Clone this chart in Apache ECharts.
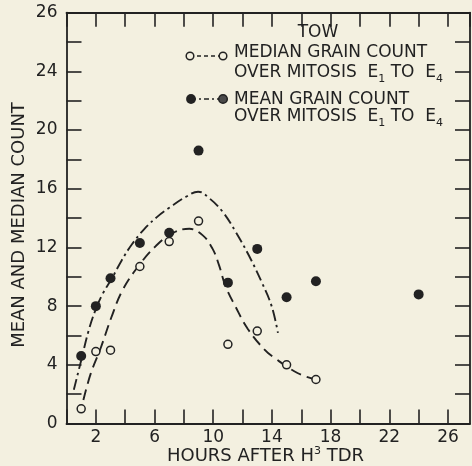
<!DOCTYPE html>
<html>
<head>
<meta charset="utf-8">
<script src="https://cdn.jsdelivr.net/npm/echarts@6/dist/echarts.min.js"></script>
<style>
  html, body { margin: 0; padding: 0; background: #f3f0e0; }
  #chart { width: 472px; height: 466px; }
</style>
</head>
<body>
<div id="chart"></div>
<script>
// Sampling times (hours after H3 TdR)
const hours = [1, 2, 3, 5, 7, 9, 11, 13, 15, 17, 24];
// Mean grain count over mitosis E1 to E4
const meanCount = [4.6, 8.0, 9.9, 12.3, 13.0, 18.6, 9.6, 11.9, 8.6, 9.7, 8.8];
// Median grain count over mitosis E1 to E4 (no median at 24 h)
const medianCount = [1.0, 4.9, 5.0, 10.7, 12.4, 13.8, 5.4, 6.3, 4.0, 3.0, null];

// Hand-fitted trend through the medians (dashed)
const medianCurveHours = [1.15, 1.65, 2.35, 3.06, 3.8, 4.88, 6.08, 7.23, 8.37, 9.27, 9.95, 10.4, 10.82, 11.48, 12.37, 13.48, 14.16, 15.74, 16.8];
const medianCurveCount = [1.6, 3.4, 5.2, 7.24, 9.05, 10.7, 12.09, 12.98, 13.27, 12.84, 11.92, 10.78, 9.41, 8.04, 6.43, 5.05, 4.48, 3.44, 3.05];

// Hand-fitted trend through the means (dash-dot)
const meanCurveHours = [0.5, 1.0, 1.5, 2.0, 2.5, 3.1, 3.75, 4.45, 5.3, 6.2, 7.0, 8.17, 8.97, 9.76, 10.66, 11.55, 12.44, 13.32, 13.98, 14.41];
const meanCurveCount = [2.3, 4.3, 6.3, 7.8, 8.9, 9.9, 11.1, 12.2, 13.25, 14.1, 14.7, 15.47, 15.8, 15.33, 14.41, 13.03, 11.43, 9.6, 8.0, 6.18];

// Axis tick labels
const xLabelValues = [2, 6, 10, 14, 18, 22, 26];
const yLabelValues = [0, 4, 8, 12, 16, 20, 24, 28];
const yLabelTexts  = ['0', '4', '8', '12', '16', '20', '24', '26'];

const INK = '#222222';
const PAPER = '#f3f0e0';
const FONT = 'DejaVu Sans';

const zip = (xs, ys) => xs.map((x, i) => [x, ys[i]]).filter(p => p[1] !== null);

const tickStyle = { color: INK, width: 1.6 };
const lineStyleAxis = { color: INK, width: 1.8 };

function xAxisDef(position, showLabels) {
  return {
    type: 'value', position, min: 0, max: 27.5, interval: 2,
    axisLine: { show: true, onZero: false, lineStyle: lineStyleAxis },
    axisTick: { show: true, inside: true, length: 14, lineStyle: tickStyle },
    splitLine: { show: false },
    axisLabel: {
      show: showLabels, margin: 6, color: INK, fontSize: 17, fontFamily: FONT,
      showMaxLabel: false,
      formatter: v => (xLabelValues.indexOf(v) >= 0 ? String(v) : '')
    }
  };
}

function yAxisDef(position, showLabels) {
  return {
    type: 'value', position, min: 0, max: 28, interval: 2,
    axisLine: { show: true, onZero: false, lineStyle: lineStyleAxis },
    axisTick: { show: true, inside: true, length: 15, lineStyle: tickStyle },
    splitLine: { show: false },
    axisLabel: {
      show: showLabels, margin: 9, color: INK, fontSize: 17, fontFamily: FONT,
      formatter: v => {
        const i = yLabelValues.indexOf(v);
        return i >= 0 ? yLabelTexts[i] : '';
      }
    }
  };
}

const chart = echarts.init(document.getElementById('chart'), null, { renderer: 'canvas' });

const textStyleBase = { fill: INK, fontFamily: FONT };
const subRich = {
  m: { fontSize: 17, lineHeight: 24, fontFamily: FONT, color: INK },
  s: { fontSize: 11, lineHeight: 12, verticalAlign: 'bottom', fontFamily: FONT, color: INK }
};

chart.setOption({
  backgroundColor: PAPER,
  animation: false,
  grid: { left: 66.5, right: 2, top: 12.7, bottom: 42.5 },
  xAxis: [xAxisDef('bottom', true), xAxisDef('top', false)],
  yAxis: [yAxisDef('left', true), yAxisDef('right', false)],
  series: [
    {
      type: 'line', data: zip(medianCurveHours, medianCurveCount),
      smooth: 0.4, symbol: 'none', z: 2,
      lineStyle: { color: INK, width: 1.9, type: [11, 6] }
    },
    {
      type: 'line', data: zip(meanCurveHours, meanCurveCount),
      smooth: 0.4, symbol: 'none', z: 2,
      lineStyle: { color: INK, width: 1.9, type: [11, 4, 2.5, 4] }
    },
    {
      type: 'scatter', data: zip(hours, medianCount),
      symbol: 'circle', symbolSize: 8, z: 3,
      itemStyle: { color: PAPER, borderColor: INK, borderWidth: 1.5, opacity: 1 }
    },
    {
      type: 'scatter', data: zip(hours, meanCount),
      symbol: 'circle', symbolSize: 10, z: 3,
      itemStyle: { color: INK, opacity: 1 }
    }
  ],
  graphic: [
    // Axis titles
    {
      type: 'text', x: 19, y: 225, rotation: Math.PI / 2,
      style: Object.assign({ text: 'MEAN AND MEDIAN COUNT', fontSize: 18, align: 'center', verticalAlign: 'middle' }, textStyleBase)
    },
    {
      type: 'text', x: 265.5, y: 445.5,
      style: Object.assign({
        text: '{m|HOURS AFTER H}{sup|3}{m| TDR}', align: 'center', verticalAlign: 'top',
        rich: {
          m: { fontSize: 18, lineHeight: 22, fontFamily: FONT, color: INK },
          sup: { fontSize: 11, lineHeight: 12, verticalAlign: 'top', fontFamily: FONT, color: INK }
        }
      }, textStyleBase)
    },
    // Key
    {
      type: 'text', x: 318, y: 33,
      style: Object.assign({ text: 'TOW', fontSize: 17, align: 'center', verticalAlign: 'middle' }, textStyleBase)
    },
    {
      type: 'line', shape: { x1: 190, y1: 56, x2: 223, y2: 56 },
      style: { stroke: INK, lineWidth: 1.6, lineDash: [4, 3] }
    },
    { type: 'circle', shape: { cx: 190, cy: 56, r: 3.8 }, style: { fill: PAPER, stroke: INK, lineWidth: 1.5 } },
    { type: 'circle', shape: { cx: 223, cy: 56, r: 3.8 }, style: { fill: PAPER, stroke: INK, lineWidth: 1.5 } },
    {
      type: 'text', x: 234, y: 53,
      style: Object.assign({ text: 'MEDIAN GRAIN COUNT', fontSize: 17, align: 'left', verticalAlign: 'middle' }, textStyleBase)
    },
    {
      type: 'text', x: 234, y: 61,
      style: Object.assign({
        text: '{m|OVER MITOSIS  E}{s|1}{m| TO  E}{s|4}', align: 'left', verticalAlign: 'top', rich: subRich
      }, textStyleBase)
    },
    {
      type: 'line', shape: { x1: 191, y1: 99, x2: 223, y2: 99 },
      style: { stroke: INK, lineWidth: 1.6, lineDash: [5, 3, 2, 3] }
    },
    { type: 'circle', shape: { cx: 191, cy: 99, r: 4.9 }, style: { fill: INK } },
    { type: 'circle', shape: { cx: 223, cy: 99, r: 4.3 }, style: { fill: '#4a4a4a', stroke: INK, lineWidth: 1.5 } },
    {
      type: 'text', x: 234, y: 100,
      style: Object.assign({ text: 'MEAN GRAIN COUNT', fontSize: 17, align: 'left', verticalAlign: 'middle' }, textStyleBase)
    },
    {
      type: 'text', x: 234, y: 104.7,
      style: Object.assign({
        text: '{m|OVER MITOSIS  E}{s|1}{m| TO  E}{s|4}', align: 'left', verticalAlign: 'top', rich: subRich
      }, textStyleBase)
    }
  ]
});
</script>
</body>
</html>
